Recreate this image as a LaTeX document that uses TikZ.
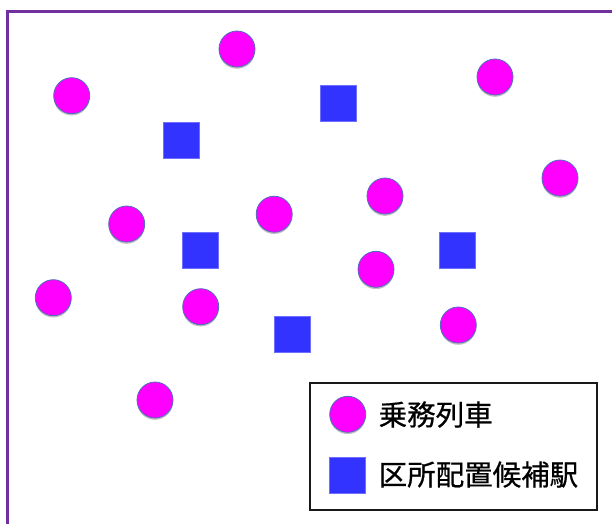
\documentclass[tikz,border=0pt]{standalone}
\usepackage{fontspec}
\newfontfamily\cjk[FakeBold=0.6]{Noto Sans CJK JP}
\usetikzlibrary{shadows}
\definecolor{framepurple}{RGB}{112,48,160}
\definecolor{trainmag}{RGB}{255,0,255}
\definecolor{trainedge}{RGB}{79,110,190}
\definecolor{stationblue}{RGB}{51,51,255}
\definecolor{stationedge}{RGB}{110,110,255}
\tikzset{
  train/.style={circle, fill=trainmag, draw=trainedge, line width=0.8pt,
    minimum size=36pt, inner sep=0pt,
    drop shadow={shadow xshift=0pt, shadow yshift=-1.8pt, opacity=0.35, fill=black!70}},
  station/.style={rectangle, fill=stationblue, draw=stationedge, line width=0.6pt,
    minimum size=36pt, inner sep=0pt},
  legendtext/.style={anchor=west, inner sep=0pt, font=\cjk\fontsize{28.5}{30}\selectfont},
}
\begin{document}
\begin{tikzpicture}[x=1pt, y=-1pt]
\useasboundingbox (0,0) rectangle (612,524);
% outer frame (right and bottom sides lie beyond the picture)
\draw[framepurple, line width=3pt, line join=miter] (7.8,524) -- (7.8,12) -- (612,12);
% trains
\node[train] (c1) at (71.7,95.7) {};
\node[train] (c2) at (237,49) {};
\node[train] (c3) at (495,77) {};
\node[train] (c4) at (560,178) {};
\node[train] (c5) at (126.7,224) {};
\node[train] (c6) at (274.2,214.2) {};
\node[train] (c7) at (385,196) {};
\node[train] (c8) at (376,269.3) {};
\node[train] (c9) at (53.3,297.7) {};
\node[train] (c10) at (200.7,306.7) {};
\node[train] (c11) at (458.3,325) {};
\node[train] (c12) at (155,400) {};
% stations
\node[station] (s1) at (181.5,140) {};
\node[station] (s2) at (338.7,103.3) {};
\node[station] (s3) at (200,250.7) {};
\node[station] (s4) at (457.7,250.7) {};
\node[station] (s5) at (292,334) {};
% legend
\draw[black!90, line width=1.8pt, fill=white] (310,383.3) rectangle (596.7,510);
\node[train] (lc) at (347.7,414.3) {};
\node[station] (ls) at (347.5,475.3) {};
\node[legendtext] (lt1) at (378.5,414.5) {乗務列車};
\node[legendtext] (lt2) at (378.5,474.5) {区所配置候補駅};
\end{tikzpicture}
\end{document}
